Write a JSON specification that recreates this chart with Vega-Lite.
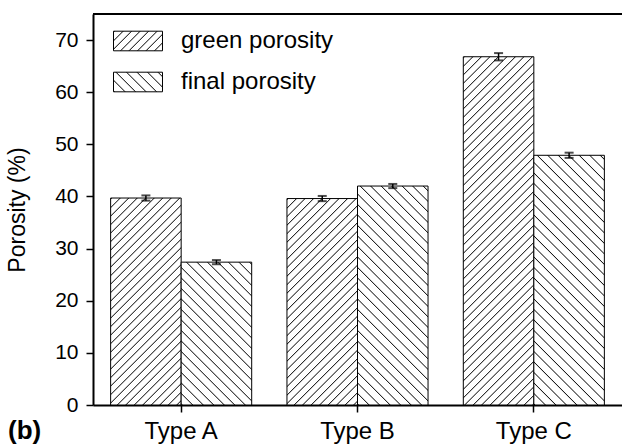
{
  "$schema": "https://vega.github.io/schema/vega-lite/v6.json",
  "width": 529,
  "height": 391,
  "autosize": "none",
  "padding": {"left": 93, "top": 14, "right": 0, "bottom": 42},
  "background": "white",
  "config": {
    "view": {"stroke": null},
    "font": "Arial",
    "axis": {"labelFont": "Arial", "titleFont": "Arial", "labelColor": "black", "titleColor": "black", "domainColor": "black", "tickColor": "black", "grid": false}
  },
  "params": [
    {"name": "gstops", "value": [
      {"offset":0,"color":"#fff"},{"offset":0.0026,"color":"#111"},{"offset":0.0052,"color":"#fff"},
      {"offset":0.02,"color":"#fff"},{"offset":0.0226,"color":"#111"},{"offset":0.0252,"color":"#fff"},
      {"offset":0.04,"color":"#fff"},{"offset":0.0426,"color":"#111"},{"offset":0.0452,"color":"#fff"},
      {"offset":0.06,"color":"#fff"},{"offset":0.0626,"color":"#111"},{"offset":0.0652,"color":"#fff"},
      {"offset":0.08,"color":"#fff"},{"offset":0.0826,"color":"#111"},{"offset":0.0852,"color":"#fff"},
      {"offset":0.1,"color":"#fff"},{"offset":0.1026,"color":"#111"},{"offset":0.1052,"color":"#fff"},
      {"offset":0.12,"color":"#fff"},{"offset":0.1226,"color":"#111"},{"offset":0.1252,"color":"#fff"},
      {"offset":0.14,"color":"#fff"},{"offset":0.1426,"color":"#111"},{"offset":0.1452,"color":"#fff"},
      {"offset":0.16,"color":"#fff"},{"offset":0.1626,"color":"#111"},{"offset":0.1652,"color":"#fff"},
      {"offset":0.18,"color":"#fff"},{"offset":0.1826,"color":"#111"},{"offset":0.1852,"color":"#fff"},
      {"offset":0.2,"color":"#fff"},{"offset":0.2026,"color":"#111"},{"offset":0.2052,"color":"#fff"},
      {"offset":0.22,"color":"#fff"},{"offset":0.2226,"color":"#111"},{"offset":0.2252,"color":"#fff"},
      {"offset":0.24,"color":"#fff"},{"offset":0.2426,"color":"#111"},{"offset":0.2452,"color":"#fff"},
      {"offset":0.26,"color":"#fff"},{"offset":0.2626,"color":"#111"},{"offset":0.2652,"color":"#fff"},
      {"offset":0.28,"color":"#fff"},{"offset":0.2826,"color":"#111"},{"offset":0.2852,"color":"#fff"},
      {"offset":0.3,"color":"#fff"},{"offset":0.3026,"color":"#111"},{"offset":0.3052,"color":"#fff"},
      {"offset":0.32,"color":"#fff"},{"offset":0.3226,"color":"#111"},{"offset":0.3252,"color":"#fff"},
      {"offset":0.34,"color":"#fff"},{"offset":0.3426,"color":"#111"},{"offset":0.3452,"color":"#fff"},
      {"offset":0.36,"color":"#fff"},{"offset":0.3626,"color":"#111"},{"offset":0.3652,"color":"#fff"},
      {"offset":0.38,"color":"#fff"},{"offset":0.3826,"color":"#111"},{"offset":0.3852,"color":"#fff"},
      {"offset":0.4,"color":"#fff"},{"offset":0.4026,"color":"#111"},{"offset":0.4052,"color":"#fff"},
      {"offset":0.42,"color":"#fff"},{"offset":0.4226,"color":"#111"},{"offset":0.4252,"color":"#fff"},
      {"offset":0.44,"color":"#fff"},{"offset":0.4426,"color":"#111"},{"offset":0.4452,"color":"#fff"},
      {"offset":0.46,"color":"#fff"},{"offset":0.4626,"color":"#111"},{"offset":0.4652,"color":"#fff"},
      {"offset":0.48,"color":"#fff"},{"offset":0.4826,"color":"#111"},{"offset":0.4852,"color":"#fff"},
      {"offset":0.5,"color":"#fff"},{"offset":0.5026,"color":"#111"},{"offset":0.5052,"color":"#fff"},
      {"offset":0.52,"color":"#fff"},{"offset":0.5226,"color":"#111"},{"offset":0.5252,"color":"#fff"},
      {"offset":0.54,"color":"#fff"},{"offset":0.5426,"color":"#111"},{"offset":0.5452,"color":"#fff"},
      {"offset":0.56,"color":"#fff"},{"offset":0.5626,"color":"#111"},{"offset":0.5652,"color":"#fff"},
      {"offset":0.58,"color":"#fff"},{"offset":0.5826,"color":"#111"},{"offset":0.5852,"color":"#fff"},
      {"offset":0.6,"color":"#fff"},{"offset":0.6026,"color":"#111"},{"offset":0.6052,"color":"#fff"},
      {"offset":0.62,"color":"#fff"},{"offset":0.6226,"color":"#111"},{"offset":0.6252,"color":"#fff"},
      {"offset":0.64,"color":"#fff"},{"offset":0.6426,"color":"#111"},{"offset":0.6452,"color":"#fff"},
      {"offset":0.66,"color":"#fff"},{"offset":0.6626,"color":"#111"},{"offset":0.6652,"color":"#fff"},
      {"offset":0.68,"color":"#fff"},{"offset":0.6826,"color":"#111"},{"offset":0.6852,"color":"#fff"},
      {"offset":0.7,"color":"#fff"},{"offset":0.7026,"color":"#111"},{"offset":0.7052,"color":"#fff"},
      {"offset":0.72,"color":"#fff"},{"offset":0.7226,"color":"#111"},{"offset":0.7252,"color":"#fff"},
      {"offset":0.74,"color":"#fff"},{"offset":0.7426,"color":"#111"},{"offset":0.7452,"color":"#fff"},
      {"offset":0.76,"color":"#fff"},{"offset":0.7626,"color":"#111"},{"offset":0.7652,"color":"#fff"},
      {"offset":0.78,"color":"#fff"},{"offset":0.7826,"color":"#111"},{"offset":0.7852,"color":"#fff"},
      {"offset":0.8,"color":"#fff"},{"offset":0.8026,"color":"#111"},{"offset":0.8052,"color":"#fff"},
      {"offset":0.82,"color":"#fff"},{"offset":0.8226,"color":"#111"},{"offset":0.8252,"color":"#fff"},
      {"offset":0.84,"color":"#fff"},{"offset":0.8426,"color":"#111"},{"offset":0.8452,"color":"#fff"},
      {"offset":0.86,"color":"#fff"},{"offset":0.8626,"color":"#111"},{"offset":0.8652,"color":"#fff"},
      {"offset":0.88,"color":"#fff"},{"offset":0.8826,"color":"#111"},{"offset":0.8852,"color":"#fff"},
      {"offset":0.9,"color":"#fff"},{"offset":0.9026,"color":"#111"},{"offset":0.9052,"color":"#fff"},
      {"offset":0.92,"color":"#fff"},{"offset":0.9226,"color":"#111"},{"offset":0.9252,"color":"#fff"},
      {"offset":0.94,"color":"#fff"},{"offset":0.9426,"color":"#111"},{"offset":0.9452,"color":"#fff"},
      {"offset":0.96,"color":"#fff"},{"offset":0.9626,"color":"#111"},{"offset":0.9652,"color":"#fff"},
      {"offset":0.98,"color":"#fff"},{"offset":0.9826,"color":"#111"},{"offset":0.9852,"color":"#fff"},
      {"offset":1,"color":"#fff"}
    ]},
    {"name": "fstops", "value": [
      {"offset":0,"color":"#fff"},{"offset":0.0033,"color":"#111"},{"offset":0.0066,"color":"#fff"},
      {"offset":0.03125,"color":"#fff"},{"offset":0.03455,"color":"#111"},{"offset":0.03785,"color":"#fff"},
      {"offset":0.0625,"color":"#fff"},{"offset":0.0658,"color":"#111"},{"offset":0.0691,"color":"#fff"},
      {"offset":0.09375,"color":"#fff"},{"offset":0.09705,"color":"#111"},{"offset":0.10035,"color":"#fff"},
      {"offset":0.125,"color":"#fff"},{"offset":0.1283,"color":"#111"},{"offset":0.1316,"color":"#fff"},
      {"offset":0.15625,"color":"#fff"},{"offset":0.15955,"color":"#111"},{"offset":0.16285,"color":"#fff"},
      {"offset":0.1875,"color":"#fff"},{"offset":0.1908,"color":"#111"},{"offset":0.1941,"color":"#fff"},
      {"offset":0.21875,"color":"#fff"},{"offset":0.22205,"color":"#111"},{"offset":0.22535,"color":"#fff"},
      {"offset":0.25,"color":"#fff"},{"offset":0.2533,"color":"#111"},{"offset":0.2566,"color":"#fff"},
      {"offset":0.28125,"color":"#fff"},{"offset":0.28455,"color":"#111"},{"offset":0.28785,"color":"#fff"},
      {"offset":0.3125,"color":"#fff"},{"offset":0.3158,"color":"#111"},{"offset":0.3191,"color":"#fff"},
      {"offset":0.34375,"color":"#fff"},{"offset":0.34705,"color":"#111"},{"offset":0.35035,"color":"#fff"},
      {"offset":0.375,"color":"#fff"},{"offset":0.3783,"color":"#111"},{"offset":0.3816,"color":"#fff"},
      {"offset":0.40625,"color":"#fff"},{"offset":0.40955,"color":"#111"},{"offset":0.41285,"color":"#fff"},
      {"offset":0.4375,"color":"#fff"},{"offset":0.4408,"color":"#111"},{"offset":0.4441,"color":"#fff"},
      {"offset":0.46875,"color":"#fff"},{"offset":0.47205,"color":"#111"},{"offset":0.47535,"color":"#fff"},
      {"offset":0.5,"color":"#fff"},{"offset":0.5033,"color":"#111"},{"offset":0.5066,"color":"#fff"},
      {"offset":0.53125,"color":"#fff"},{"offset":0.53455,"color":"#111"},{"offset":0.53785,"color":"#fff"},
      {"offset":0.5625,"color":"#fff"},{"offset":0.5658,"color":"#111"},{"offset":0.5691,"color":"#fff"},
      {"offset":0.59375,"color":"#fff"},{"offset":0.59705,"color":"#111"},{"offset":0.60035,"color":"#fff"},
      {"offset":0.625,"color":"#fff"},{"offset":0.6283,"color":"#111"},{"offset":0.6316,"color":"#fff"},
      {"offset":0.65625,"color":"#fff"},{"offset":0.65955,"color":"#111"},{"offset":0.66285,"color":"#fff"},
      {"offset":0.6875,"color":"#fff"},{"offset":0.6908,"color":"#111"},{"offset":0.6941,"color":"#fff"},
      {"offset":0.71875,"color":"#fff"},{"offset":0.72205,"color":"#111"},{"offset":0.72535,"color":"#fff"},
      {"offset":0.75,"color":"#fff"},{"offset":0.7533,"color":"#111"},{"offset":0.7566,"color":"#fff"},
      {"offset":0.78125,"color":"#fff"},{"offset":0.78455,"color":"#111"},{"offset":0.78785,"color":"#fff"},
      {"offset":0.8125,"color":"#fff"},{"offset":0.8158,"color":"#111"},{"offset":0.8191,"color":"#fff"},
      {"offset":0.84375,"color":"#fff"},{"offset":0.84705,"color":"#111"},{"offset":0.85035,"color":"#fff"},
      {"offset":0.875,"color":"#fff"},{"offset":0.8783,"color":"#111"},{"offset":0.8816,"color":"#fff"},
      {"offset":0.90625,"color":"#fff"},{"offset":0.90955,"color":"#111"},{"offset":0.91285,"color":"#fff"},
      {"offset":0.9375,"color":"#fff"},{"offset":0.9408,"color":"#111"},{"offset":0.9441,"color":"#fff"},
      {"offset":0.96875,"color":"#fff"},{"offset":0.97205,"color":"#111"},{"offset":0.97535,"color":"#fff"},
      {"offset":1,"color":"#fff"}
    ]}
  ],
  "title": {"text": "(b)", "orient": "bottom", "anchor": "start", "frame": "group", "fontSize": 26, "fontWeight": "bold", "font": "Arial", "color": "black", "dx": -85, "dy": -25, "offset": 0},
  "data": {
    "values": [
      {"type": "Type A", "series": "green porosity", "value": 39.7, "lo": 39.2, "hi": 40.2},
      {"type": "Type A", "series": "final porosity", "value": 27.4, "lo": 27.0, "hi": 27.8},
      {"type": "Type B", "series": "green porosity", "value": 39.6, "lo": 39.1, "hi": 40.1},
      {"type": "Type B", "series": "final porosity", "value": 42.0, "lo": 41.6, "hi": 42.4},
      {"type": "Type C", "series": "green porosity", "value": 66.8, "lo": 66.1, "hi": 67.5},
      {"type": "Type C", "series": "final porosity", "value": 47.9, "lo": 47.4, "hi": 48.4}
    ]
  },
  "layer": [
    {
      "mark": {"type": "bar", "stroke": "black", "strokeWidth": 1},
      "encoding": {
        "x": {
          "field": "type", "type": "nominal",
          "scale": {"paddingInner": 0.2, "paddingOuter": 0.1},
          "axis": {"title": null, "labelAngle": 0, "labelFontSize": 24, "labelPadding": 7, "tickSize": 7, "tickWidth": 1.5, "domainWidth": 2}
        },
        "xOffset": {"field": "series", "type": "nominal", "sort": ["green porosity", "final porosity"]},
        "y": {
          "field": "value", "type": "quantitative",
          "scale": {"domain": [0, 75], "nice": false, "zero": true},
          "axis": {
            "title": "Porosity (%)", "titleFontSize": 23, "titleFontWeight": "normal", "titlePadding": 25,
            "values": [0, 5, 10, 15, 20, 25, 30, 35, 40, 45, 50, 55, 60, 65, 70],
            "labelExpr": "datum.value % 10 == 0 ? datum.label : ''",
            "labelFontSize": 21, "labelPadding": 8,
            "tickSize": {"condition": {"test": "datum.value % 10 == 0", "value": 7}, "value": 4},
            "tickWidth": 1.5, "domainWidth": 2
          }
        },
        "fill": {
          "condition": {"test": "datum.series != null", "value": {"expr": "datum.series == 'green porosity' ? {gradient: 'linear', x1: 0, y1: 0, x2: 425*bandwidth('xOffset')/(pow(bandwidth('xOffset'),2)+pow(scale('y',0)-scale('y',datum.value),2)), y2: 425*(scale('y',0)-scale('y',datum.value))/(pow(bandwidth('xOffset'),2)+pow(scale('y',0)-scale('y',datum.value),2)), stops: gstops} : {gradient: 'linear', x1: 0, y1: 1, x2: 336*bandwidth('xOffset')/(pow(bandwidth('xOffset'),2)+pow(scale('y',0)-scale('y',datum.value),2)), y2: 1-336*(scale('y',0)-scale('y',datum.value))/(pow(bandwidth('xOffset'),2)+pow(scale('y',0)-scale('y',datum.value),2)), stops: fstops}"}},
          "field": "series", "type": "nominal",
          "sort": ["green porosity", "final porosity"],
          "scale": {"range": [
            {"expr": "{gradient: 'linear', x1: 0, y1: 0, x2: 7.4771, y2: 2.99085, stops: gstops}"},
            {"expr": "{gradient: 'linear', x1: 0, y1: 1, x2: 5.9113, y2: -1.36453, stops: fstops}"}
          ]},
          "legend": {
            "title": null, "orient": "none", "legendX": 33, "legendY": 15,
            "symbolType": "M-2.5,-1H2.5V1H-2.5Z", "symbolSize": 384,
            "symbolStrokeColor": "black", "symbolStrokeWidth": 1, "symbolOpacity": 1,
            "labelFontSize": 24, "labelFont": "Arial", "labelColor": "black", "labelOffset": 31,
            "rowPadding": 17, "padding": 0
          }
        }
      }
    },
    {
      "mark": {"type": "rule", "strokeWidth": 1.5, "color": "black"},
      "encoding": {
        "x": {"field": "type", "type": "nominal"},
        "xOffset": {"field": "series", "type": "nominal", "sort": ["green porosity", "final porosity"]},
        "y": {"field": "lo", "type": "quantitative"}, "y2": {"field": "hi"}
      }
    },
    {
      "mark": {"type": "tick", "thickness": 2, "size": 9, "color": "black"},
      "encoding": {
        "x": {"field": "type", "type": "nominal"},
        "xOffset": {"field": "series", "type": "nominal", "sort": ["green porosity", "final porosity"]},
        "y": {"field": "lo", "type": "quantitative"}
      }
    },
    {
      "mark": {"type": "tick", "thickness": 2, "size": 9, "color": "black"},
      "encoding": {
        "x": {"field": "type", "type": "nominal"},
        "xOffset": {"field": "series", "type": "nominal", "sort": ["green porosity", "final porosity"]},
        "y": {"field": "hi", "type": "quantitative"}
      }
    },
    {
      "mark": {"type": "rule", "strokeWidth": 2, "color": "black"},
      "encoding": {"y": {"datum": 75}}
    }
  ]
}
